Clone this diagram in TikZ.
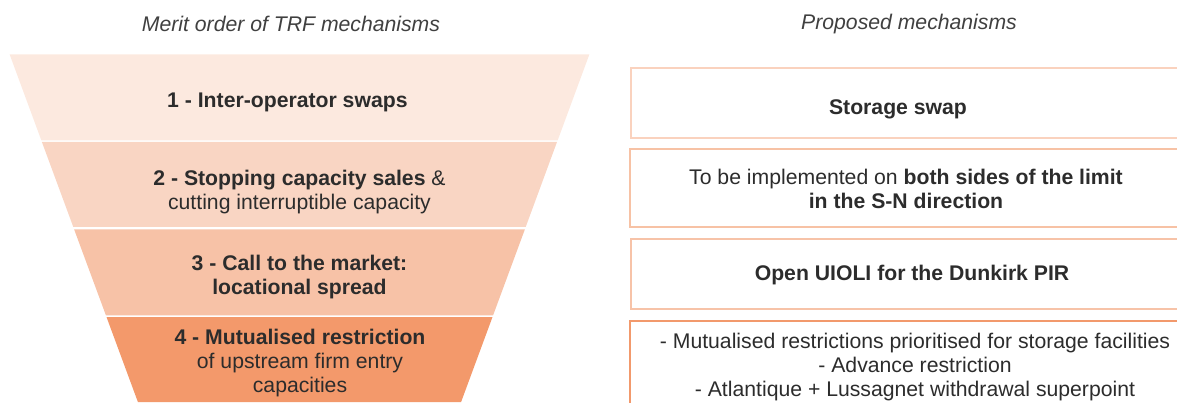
\documentclass[tikz,border=0pt]{standalone}
\usepackage{fontspec}
\setmainfont{Liberation Sans}
\definecolor{bandA}{HTML}{FCE9DF}
\definecolor{bandB}{HTML}{F9D5C3}
\definecolor{bandC}{HTML}{F7C2A7}
\definecolor{bandD}{HTML}{F3996B}
\definecolor{boxA}{HTML}{FAD2BE}
\definecolor{boxB}{HTML}{F7C2A5}
\definecolor{boxC}{HTML}{F7C3A8}
\definecolor{boxD}{HTML}{F2996C}
\definecolor{txt}{HTML}{2C2C2C}
\definecolor{ttl}{HTML}{404040}
\tikzset{
  lbl/.style={font=\fontsize{21.2}{24}\selectfont, text=txt, align=center, inner sep=0pt},
  ttlstyle/.style={font=\fontsize{21.2}{24}\selectfont\itshape, text=ttl, inner sep=0pt},
  mbox/.style={line width=2pt}
}
\begin{document}
\begin{tikzpicture}[x=1pt,y=-1pt]
\useasboundingbox (0,0) rectangle (1177,403);
\clip (0,0) rectangle (1177,403);
% funnel bands
\fill[bandA] (9.6,54.3) -- (589.4,54.3) -- (557.7,140.3) -- (41.3,140.3) -- cycle;
\fill[bandB] (41.9,142) -- (557.0,142) -- (525.7,227) -- (73.3,227) -- cycle;
\fill[bandC] (74.1,229.3) -- (524.9,229.3) -- (493.1,315.3) -- (105.9,315.3) -- cycle;
\fill[bandD] (106.5,317) -- (492.5,317) -- (461.1,402) -- (137.9,402) -- cycle;
% right boxes
\draw[mbox, boxA] (630.5,68.3) rectangle (1195,138.3);
\draw[mbox, boxB] (629.5,149.3) rectangle (1195,227.3);
\draw[mbox, boxC] (630.5,239.3) rectangle (1195,309);
\draw[mbox, boxD] (629.5,321) rectangle (1195,420);
% titles
\node[ttlstyle] (t1) at (291,24) {Merit order of TRF mechanisms};
\node[ttlstyle] (t2) at (909,24) {Proposed mechanisms};
% funnel texts
\node[lbl] (f1) at (287.4,102) {\textbf{1 - Inter-operator swaps}};
\node[lbl] (f2) at (299.5,192) {\textbf{2 - Stopping capacity sales} \&\\cutting interruptible capacity};
\node[lbl] (f3) at (299.5,277) {\textbf{3 - Call to the market:}\\\textbf{locational spread}};
\node[lbl] (f4) at (300,363) {\textbf{4 - Mutualised restriction}\\of upstream firm entry\\capacities};
% box texts
\node[lbl] (b1) at (898,109) {\textbf{Storage swap}};
\node[lbl] (b2) at (906,188.5) {To be implemented on \textbf{both sides of the limit}\\\textbf{in the S-N direction}};
\node[lbl] (b3) at (912,275.5) {\textbf{Open UIOLI for the Dunkirk PIR}};
\node[lbl] (b4) at (915,367.5) {- Mutualised restrictions prioritised for storage facilities\\- Advance restriction\\- Atlantique + Lussagnet withdrawal superpoint};
\end{tikzpicture}
\end{document}
